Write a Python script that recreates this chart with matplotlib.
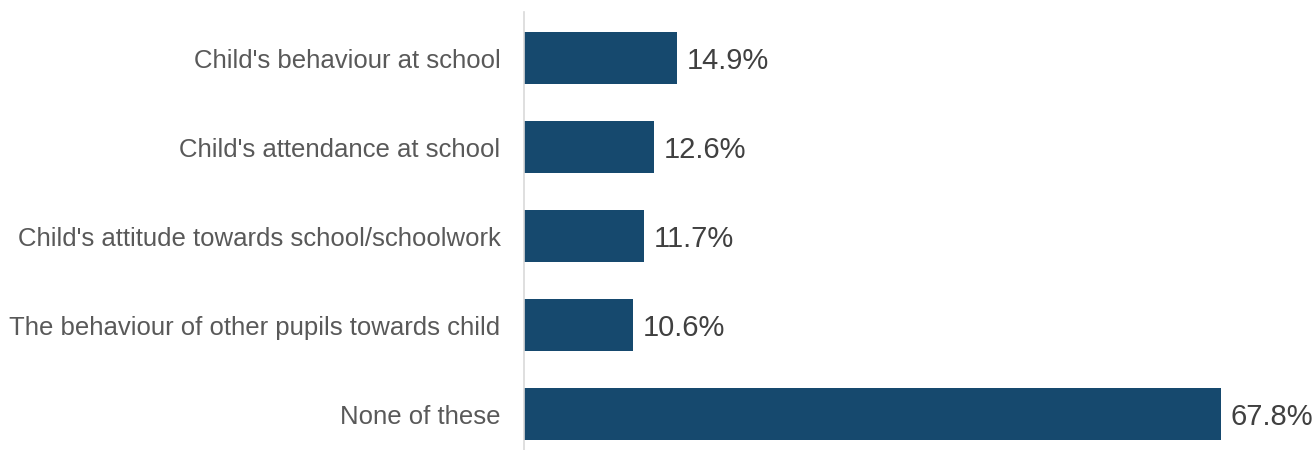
import matplotlib
matplotlib.use("Agg")
import matplotlib.pyplot as plt

plt.rcParams['font.family'] = ['Liberation Sans', 'DejaVu Sans']

categories = [
    "Child's behaviour at school",
    "Child's attendance at school",
    "Child's attitude towards school/schoolwork",
    "The behaviour of other pupils towards child",
    "None of these",
]
values = [14.9, 12.6, 11.7, 10.6, 67.8]
value_labels = ["14.9%", "12.6%", "11.7%", "10.6%", "67.8%"]

W, H = 1315, 450
fig = plt.figure(figsize=(W / 100, H / 100), dpi=100)
ax = fig.add_axes([524 / W, 0, (W - 524) / W, (H - 12) / H])

ypos = list(range(len(categories)))
ax.barh(ypos, values, height=0.584, color='#16496e')

px_per_unit = 697 / 67.8
ax.set_xlim(0, (W - 524) / px_per_unit)
ax.set_ylim(4.404, -0.517)

for y, v, lab in zip(ypos, values, value_labels):
    ax.annotate(lab, (v, y), xytext=(7, 0), textcoords='offset points',
                va='center_baseline', ha='left', fontsize=21, color='#404040')

ax.set_yticks(ypos)
ax.set_yticklabels(categories, fontsize=18.5, color='#595959')
ax.tick_params(axis='y', length=0, pad=17)
ax.set_xticks([])
for side in ['top', 'right', 'bottom']:
    ax.spines[side].set_visible(False)
ax.spines['left'].set_color('#d9d9d9')
ax.spines['left'].set_linewidth(1.2)

fig.savefig("out.png", dpi=100)
